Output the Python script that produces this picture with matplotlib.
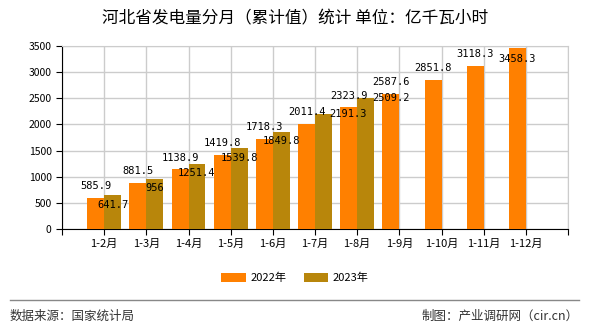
import matplotlib.pyplot as plt
import numpy as np

plt.rcParams['font.family'] = ['Noto Sans CJK SC', 'DejaVu Sans']

# 数据
月份 = ['1-2月', '1-3月', '1-4月', '1-5月', '1-6月', '1-7月', '1-8月', '1-9月', '1-10月', '1-11月', '1-12月']
值_2022 = [585.9, 881.5, 1138.9, 1419.8, 1718.3, 2011.4, 2323.9, 2587.6, 2851.8, 3118.3, 3458.3]
值_2023 = [641.7, 956, 1251.4, 1539.8, 1849.8, 2191.3, 2509.2]

c22 = '#FF8000'
c23 = '#B8860B'
label_font = 'DejaVu Sans Mono'

fig = plt.figure(figsize=(5.9, 3.3), dpi=100)
ax = fig.add_axes([62/590, 1 - 229/330, 506/590, 183/330])

x = np.arange(1, len(月份) + 1)
x23 = x[:len(值_2023)]
w = 0.4
ymax = 3500
ax.bar(x, 值_2022, width=-w, align='edge', color=c22, label='2022年', zorder=3)
ax.bar(x23, 值_2023, width=w, align='edge', color=c23, label='2023年', zorder=3)

# 数值标签（放不下时放进柱子里）
for xi, v in zip(x, 值_2022):
    if v > ymax - 250:
        off, va = (0, -4), 'top'
    else:
        off, va = (0, 5), 'bottom'
    ax.annotate(f'{v:g}', (xi - w / 2, v), xytext=off, textcoords='offset points',
                ha='center', va=va, fontsize=7.5, family=label_font, zorder=5)
for i, (xi, v) in enumerate(zip(x23, 值_2023)):
    if i < 5:
        off, va = (0, -3), 'top'
    else:
        # 原图最后两个标签向右偏移
        off, va = (18, 0), 'center'
    ax.annotate(f'{v:g}', (xi + w / 2, v), xytext=off, textcoords='offset points',
                ha='center', va=va, fontsize=7.5, family=label_font, zorder=5)

ax.set_xlim(0, 12)
ax.set_ylim(0, ymax)
ax.set_xticks(np.arange(0, 13))
ax.set_xticklabels([''] + 月份 + [''], fontsize=8)
ax.set_yticks(np.arange(0, ymax + 1, 500))
ax.tick_params(axis='y', labelsize=7.5, length=4)
ax.tick_params(axis='x', length=4, pad=3)
ax.grid(color='#cccccc', linewidth=1, zorder=0)
for s in ['top', 'right']:
    ax.spines[s].set_color('#cccccc')
for s in ['left', 'bottom']:
    ax.spines[s].set_color('black')

fig.suptitle('河北省发电量分月（累计值）统计 单位：亿千瓦小时', y=1 - 19/330, va='center', fontsize=12)

fig.legend(loc='center', bbox_to_anchor=(0.5, 1 - 278/330), ncol=2, frameon=False,
           fontsize=8, handlelength=2.2, handleheight=0.9, columnspacing=1.6, handletextpad=0.4)

fig.add_artist(plt.Line2D([10/590, 579/590], [1 - 300/330, 1 - 300/330], color='#888888', linewidth=1))
fig.text(10/590, 1 - 316/330, '数据来源：国家统计局', fontsize=9, va='center', ha='left', color='#333333')
fig.text(579/590, 1 - 316/330, '制图：产业调研网（cir.cn）', fontsize=9, va='center', ha='right', color='#333333')

fig.savefig('out.png', dpi=100)
